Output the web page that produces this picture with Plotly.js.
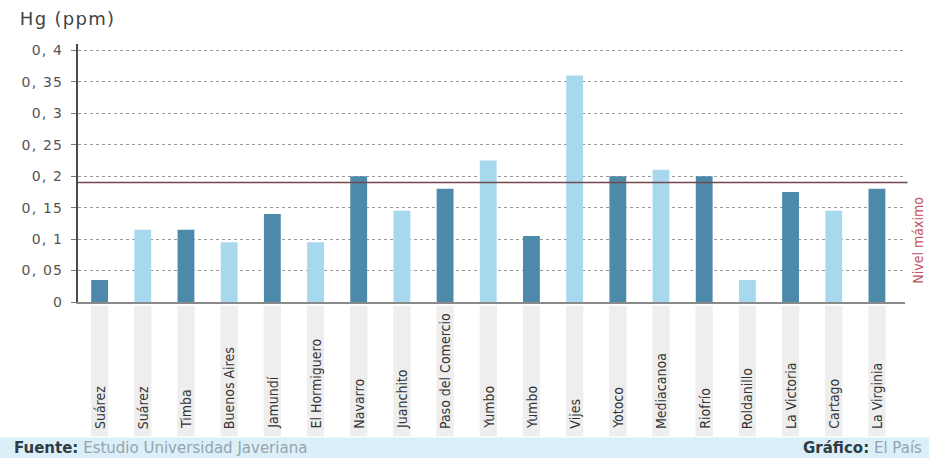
<!DOCTYPE html>
<html>
<head>
<meta charset="utf-8">
<script src="https://cdn.plot.ly/plotly-3.0.1.min.js"></script>
<style>
html,body{margin:0;padding:0;background:#fff;}
#chart{width:929px;height:458px;}
#chart .ytick text{letter-spacing:1.2px;}
#chart .annotation.wide text{letter-spacing:1.3px;}
</style>
</head>
<body>
<div id="chart"></div>
<script>
// ---- data ----
const places = ["Suárez","Suárez","Timba","Buenos Aires","Jamundí","El Hormiguero","Navarro","Juanchito","Paso del Comercio","Yumbo","Yumbo","Vijes","Yotoco","Mediacanoa","Riofrío","Roldanillo","La Victoria","Cartago","La Virginia"];
const hgValues = [0.035,0.115,0.115,0.095,0.14,0.095,0.2,0.145,0.18,0.225,0.105,0.36,0.2,0.21,0.2,0.035,0.175,0.145,0.18];
const yTickVals = [0,0.05,0.1,0.15,0.2,0.25,0.3,0.35,0.4];
const yTickText = ["0","0, 05","0, 1","0, 15","0, 2","0, 25","0, 3","0, 35","0, 4"];
const maxLevel = 0.19;
const maxLevelLabel = "Nivel máximo";
const yTitle = "Hg (ppm)";
const sourceLabel = "Fuente:";
const sourceText = "Estudio Universidad Javeriana";
const creditLabel = "Gráfico:";
const creditText = "El País";

// ---- styles ----
const DARK = "#4d8aa9";
const LIGHT = "#a8d8ee";
const idx = places.map((_, i) => i);
const barColors = idx.map(i => (i % 2 === 0 ? DARK : LIGHT));

const trace = {
  type: "bar",
  x: idx,
  y: hgValues,
  marker: {color: barColors, line: {width: 0}},
  width: 0.39,
  hoverinfo: "skip"
};

const shapes = [];
// label bands
idx.forEach(i => {
  shapes.push({type: "rect", xref: "x", yref: "paper", x0: i - 0.2, x1: i + 0.2, y0: -0.52, y1: -0.015,
    fillcolor: "#eeeeee", line: {width: 0}, layer: "below"});
});
// footer band
shapes.push({type: "rect", xref: "paper", yref: "paper", x0: -0.1, x1: 1.05, y0: -0.61, y1: -0.525,
  fillcolor: "#dbeff9", line: {width: 0}, layer: "below"});
// max level line
shapes.push({type: "line", xref: "paper", yref: "y", x0: 0, x1: 1.003, y0: maxLevel, y1: maxLevel,
  line: {color: "#74494d", width: 1.5}});

const annotations = [];
idx.forEach(i => {
  annotations.push({x: i, xref: "x", y: -0.5, yref: "paper", text: places[i], textangle: -90,
    showarrow: false, xanchor: "center", yanchor: "bottom",
    font: {family: "DejaVu Sans Condensed", size: 14, color: "#333"}});
});
annotations.push({x: -0.066, xref: "paper", y: 1.1, yref: "paper", text: yTitle, showarrow: false,
  xanchor: "left", yanchor: "middle", font: {family: "DejaVu Sans", size: 18, color: "#444"}, name: "wide"});
annotations.push({x: 1.004, xref: "paper", y: 0.098, yref: "y", text: maxLevelLabel, textangle: -90,
  showarrow: false, xanchor: "left", yanchor: "middle",
  font: {family: "DejaVu Sans Condensed", size: 14, color: "#c4525f"}});
annotations.push({x: -0.08, xref: "paper", y: -0.567, yref: "paper",
  text: "<b>" + sourceLabel + "</b> <span style='color:#95a4ad'>" + sourceText + "</span>",
  showarrow: false, xanchor: "left", yanchor: "middle", font: {family: "DejaVu Sans", size: 15, color: "#2f3b45"}});
annotations.push({x: 1.023, xref: "paper", y: -0.567, yref: "paper",
  text: "<b>" + creditLabel + "</b> <span style='color:#95a4ad'>" + creditText + "</span>",
  showarrow: false, xanchor: "right", yanchor: "middle", font: {family: "DejaVu Sans", size: 15, color: "#2f3b45"}});

const layout = {
  width: 929, height: 458,
  margin: {l: 78, r: 24, t: 44, b: 156, pad: 0},
  paper_bgcolor: "#ffffff", plot_bgcolor: "#ffffff",
  showlegend: false,
  bargap: 0.6,
  xaxis: {
    range: [-0.5, 18.65], showticklabels: false, ticks: "", showgrid: false, zeroline: false,
    showline: true, linecolor: "#8a8a8a", linewidth: 1.5, fixedrange: true
  },
  yaxis: {
    range: [0, 0.41], tickvals: yTickVals, ticktext: yTickText, ticks: "outside", ticklen: 5,
    ticklabelstandoff: 5,
    tickcolor: "#777", showline: true, linecolor: "#4a4a4a", linewidth: 2,
    showgrid: true, gridcolor: "#9a9a9a", griddash: "dot", gridwidth: 1, zeroline: false,
    tickfont: {family: "DejaVu Sans", size: 14, color: "#555"}, fixedrange: true
  },
  shapes: shapes,
  annotations: annotations
};

Plotly.newPlot("chart", [trace], layout, {displayModeBar: false, staticPlot: true}).then(gd => {
  // widen the title lettering like the reference
  const anns = gd.querySelectorAll(".annotation");
  layout.annotations.forEach((a, i) => { if (a.name === "wide" && anns[i]) anns[i].classList.add("wide"); });
});
</script>
</body>
</html>
